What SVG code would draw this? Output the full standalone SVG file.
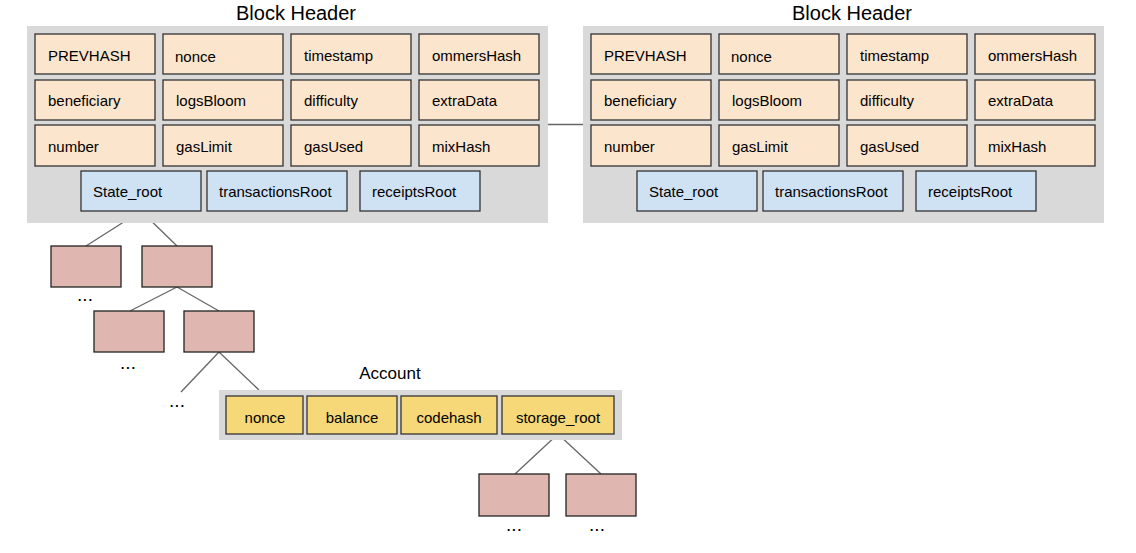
<svg xmlns="http://www.w3.org/2000/svg" width="1136" height="553" viewBox="0 0 1136 553">
<style>
text{font-family:"Liberation Sans",Arial,sans-serif;fill:#000}
.t{font-size:15px}
.title{font-size:20px;text-anchor:middle}
.acct{font-size:17px;text-anchor:middle}
.c{text-anchor:middle}
.bg{fill:#d9d9d9}
.f{fill:#fce5cd;stroke:#333;stroke-width:1.3}
.b{fill:#cfe2f3;stroke:#333;stroke-width:1.3}
.p{fill:#dfb7b0;stroke:#222;stroke-width:1.3}
.y{fill:#f6d879;stroke:#333;stroke-width:1.3}
.ln{stroke:#666;stroke-width:1.3;fill:none}
.dots{font-size:19px;text-anchor:middle}
</style>
<defs>
<g id="hdr">
<rect class="bg" x="27" y="26" width="521" height="197"/>
<rect class="f" x="35" y="34" width="120" height="40"/>
<rect class="f" x="163" y="34" width="120" height="40"/>
<rect class="f" x="291" y="34" width="120" height="40"/>
<rect class="f" x="419" y="34" width="120" height="40"/>
<rect class="f" x="35" y="80" width="120" height="40"/>
<rect class="f" x="163" y="80" width="120" height="40"/>
<rect class="f" x="291" y="80" width="120" height="40"/>
<rect class="f" x="419" y="80" width="120" height="40"/>
<rect class="f" x="35" y="125" width="120" height="41"/>
<rect class="f" x="163" y="125" width="120" height="41"/>
<rect class="f" x="291" y="125" width="120" height="41"/>
<rect class="f" x="419" y="125" width="120" height="41"/>
<rect class="b" x="81" y="171" width="120" height="40"/>
<rect class="b" x="207" y="171" width="140" height="40"/>
<rect class="b" x="360" y="171" width="120" height="40"/>
<text class="title" x="296" y="20">Block Header</text>
<text class="t" x="48" y="61">PREVHASH</text>
<text class="t" x="175" y="62">nonce</text>
<text class="t" x="304" y="61">timestamp</text>
<text class="t" x="432" y="61">ommersHash</text>
<text class="t" x="48" y="106">beneficiary</text>
<text class="t" x="176" y="106">logsBloom</text>
<text class="t" x="304" y="106">difficulty</text>
<text class="t" x="432" y="106">extraData</text>
<text class="t" x="48" y="152">number</text>
<text class="t" x="176" y="152">gasLimit</text>
<text class="t" x="304" y="152">gasUsed</text>
<text class="t" x="432" y="152">mixHash</text>
<text class="t" x="93" y="197">State_root</text>
<text class="t" x="219" y="197">transactionsRoot</text>
<text class="t" x="372" y="197">receiptsRoot</text>
</g>
</defs>
<g id="connectors">
<line class="ln" x1="548" y1="124.5" x2="584" y2="124.5"/>
<line class="ln" x1="141" y1="211" x2="86" y2="246"/>
<line class="ln" x1="141" y1="211" x2="177" y2="246"/>
<line class="ln" x1="177" y1="287" x2="130" y2="311"/>
<line class="ln" x1="177" y1="287" x2="219" y2="311"/>
<line class="ln" x1="219" y1="352" x2="181" y2="392"/>
<line class="ln" x1="219" y1="352" x2="259" y2="390"/>
<line class="ln" x1="558" y1="434" x2="515" y2="474"/>
<line class="ln" x1="558" y1="434" x2="601" y2="474"/>
</g>
<g id="block-header-1"><use href="#hdr"/></g>
<g id="block-header-2"><use href="#hdr" x="556"/></g>
<g id="state-trie">
<rect class="p" x="51" y="246" width="70" height="41"/>
<rect class="p" x="142" y="246" width="70" height="41"/>
<rect class="p" x="94" y="311" width="70" height="41"/>
<rect class="p" x="184" y="311" width="70" height="41"/>
<text class="dots" x="85" y="301">...</text>
<text class="dots" x="128" y="369">...</text>
<text class="dots" x="177" y="407">...</text>
</g>
<g id="account">
<rect class="bg" x="219" y="390" width="403" height="50"/>
<rect class="y" x="226" y="396" width="77" height="38"/>
<rect class="y" x="307" y="396" width="90" height="38"/>
<rect class="y" x="401" y="396" width="96" height="38"/>
<rect class="y" x="502" y="396" width="112" height="38"/>
<text class="acct" x="390" y="379">Account</text>
<text class="t c" x="265" y="423">nonce</text>
<text class="t c" x="352" y="423">balance</text>
<text class="t c" x="449" y="423">codehash</text>
<text class="t c" x="558" y="423">storage_root</text>
</g>
<g id="storage-trie">
<rect class="p" x="479" y="474" width="70" height="42"/>
<rect class="p" x="566" y="474" width="70" height="42"/>
<text class="dots" x="514" y="531">...</text>
<text class="dots" x="597" y="531">...</text>
</g>
</svg>
